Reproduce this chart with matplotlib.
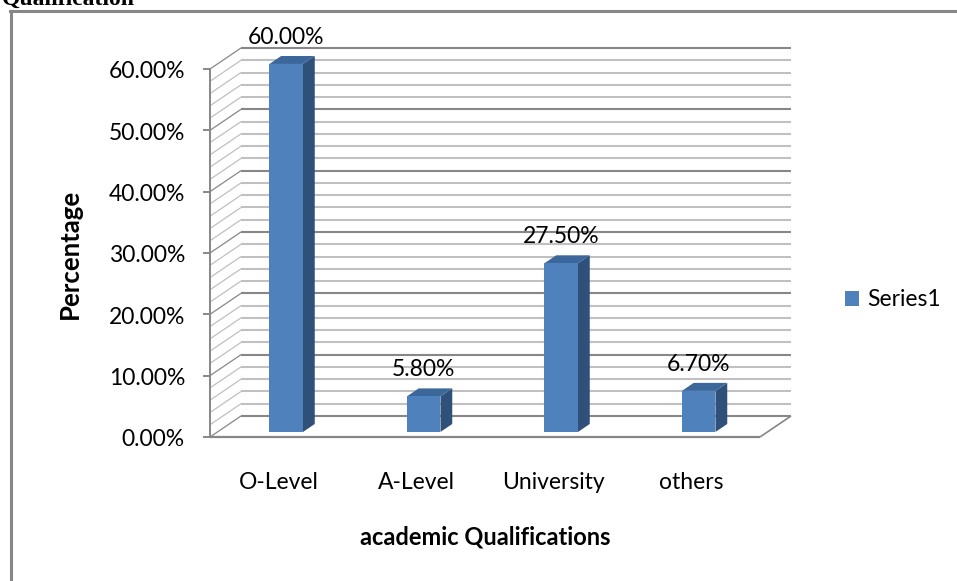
import numpy as np
import matplotlib.pyplot as plt
from matplotlib.patches import Polygon, Patch
from matplotlib.lines import Line2D

categories = ['O-Level', 'A-Level', 'University', 'others']
percentages = [60.0, 5.8, 27.5, 6.7]
major_ticks = np.arange(0, 61, 10)
minor_ticks = np.arange(0, 61, 2)

plt.rcParams['font.family'] = ['Lato', 'DejaVu Sans']

FRONT, TOP, SIDE = '#4f81bd', '#3c679b', '#2f5079'
MAJOR, MINOR = '#878787', '#c0c0c0'
FS = 16.5

W, H = 957, 581
fig = plt.figure(figsize=(W / 100, H / 100), dpi=100)
# axes box = front plane of the 3D plot area
ax = fig.add_axes([210 / W, (H - 437) / H, 550 / W, 368 / H])
n = len(categories)
ax.set_xlim(0, n)
ax.set_ylim(0, 60)
ax.axis('off')

# oblique shift for a full unit of depth, in data units
DX, DY = 0.2255, 3.424


def proj(x, y, d):
    return x + d * DX, y + d * DY


def seg(p, q, **kw):
    ax.plot([p[0], q[0]], [p[1], q[1]], clip_on=False, solid_capstyle='butt', **kw)


# back wall and side wall gridlines
for v in minor_ticks:
    major = v % 10 == 0
    col = MAJOR if major else MINOR
    seg(proj(0, v, 1), proj(n, v, 1), color=col, lw=1.5, zorder=1)
    seg(proj(0, v, 0), proj(0, v, 1), color=col, lw=0.9, zorder=1)

# floor edges
seg(proj(0, 0, 0), proj(n, 0, 0), color=MAJOR, lw=1.6, zorder=2)
seg(proj(n, 0, 0), proj(n, 0, 1), color=MAJOR, lw=1.2, zorder=2)

# value axis with tick marks
seg(proj(0, 0, 0), proj(0, 60, 0), color=MAJOR, lw=1.4, zorder=2)
for t in major_ticks:
    seg((-0.051, t), (0, t), color=MAJOR, lw=1.4, zorder=2)
    ax.annotate(f'{t:.2f}%', xy=(0, t), xytext=(-18, -2), textcoords='offset points',
                ha='right', va='center', fontsize=FS, annotation_clip=False)

# bars
df, db = 0.24, 0.62
half = 0.122
for i, v in enumerate(percentages):
    cx = i + 0.5
    x0, x1 = cx - half, cx + half
    front = [proj(x0, 0, df), proj(x1, 0, df), proj(x1, v, df), proj(x0, v, df)]
    side = [proj(x1, 0, df), proj(x1, 0, db), proj(x1, v, db), proj(x1, v, df)]
    top = [proj(x0, v, df), proj(x1, v, df), proj(x1, v, db), proj(x0, v, db)]
    for pts, col in ((side, SIDE), (top, TOP), (front, FRONT)):
        ax.add_patch(Polygon(pts, closed=True, facecolor=col, edgecolor='none',
                             clip_on=False, zorder=3))
    ax.annotate(f'{v:.2f}%', xy=proj(cx, v, df), xytext=(0, 14.5), textcoords='offset points',
                ha='center', va='baseline', fontsize=FS, annotation_clip=False)
    ax.annotate(categories[i], xy=(cx, 0), xytext=(0, -33), textcoords='offset points',
                ha='center', va='center', fontsize=FS, annotation_clip=False)

fig.text(485 / W, 1 - 537 / H, 'academic Qualifications', ha='center', va='center',
         fontsize=17, fontweight='bold')
fig.text(70 / W, 1 - 254 / H, 'Percentage', ha='center', va='center', rotation=90,
         fontsize=18.5, fontweight='bold')

fig.legend(handles=[Patch(facecolor=FRONT)], labels=['Series1'], loc='center left',
           bbox_to_anchor=(845 / W, 1 - 300 / H), frameon=False, fontsize=FS,
           handlelength=0.6, handleheight=0.6, handletextpad=0.35,
           borderaxespad=0, borderpad=0)

# chart border (left and top edges)
fig.add_artist(Line2D([10.5 / W, 10.5 / W], [0, 1 - 11 / H], transform=fig.transFigure,
                      color='#878787', lw=2.2))
fig.add_artist(Line2D([9.5 / W, 956 / W], [1 - 11 / H, 1 - 11 / H], transform=fig.transFigure,
                      color='#878787', lw=2.2))

fig.text(2 / W, 1 - 5 / H, 'Qualification', family=['Liberation Serif'], fontweight='bold',
         fontsize=17, ha='left', va='baseline')

fig.savefig('out.png', dpi=100)
